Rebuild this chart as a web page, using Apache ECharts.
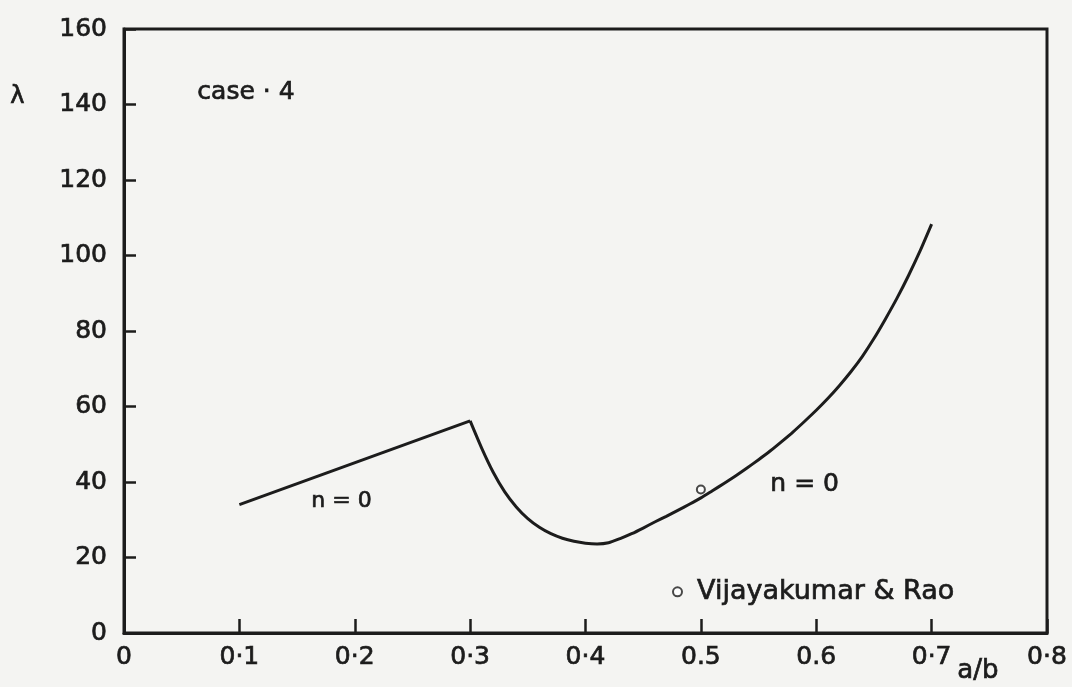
<!DOCTYPE html>
<html>
<head>
<meta charset="utf-8">
<script src="https://cdn.jsdelivr.net/npm/echarts@6/dist/echarts.min.js"></script>
<style>
  html, body { margin: 0; padding: 0; background: #f4f4f2; }
  #chart { width: 1072px; height: 687px; }
</style>
</head>
<body>
<div id="chart"></div>
<script>
// Buckling load λ against aspect ratio a/b, case 4, n = 0
const xTickLabels = ['0', '0·1', '0·2', '0·3', '0·4', '0.5', '0.6', '0·7', '0·8'];
const yTickLabels = ['0', '20', '40', '60', '80', '100', '120', '140', '160'];

// straight branch between a/b = 0.1 and 0.3
const branchA = [[0.1, 34], [0.3, 56.2]];

// curved branch from the kink at 0.3 up to 0.7, sampled every 0.01
const branchBx = [
  0.30, 0.31, 0.32, 0.33, 0.34, 0.35, 0.36, 0.37, 0.38, 0.39,
  0.40, 0.41, 0.42, 0.43, 0.44, 0.45, 0.46, 0.47, 0.48, 0.49,
  0.50, 0.51, 0.52, 0.53, 0.54, 0.55, 0.56, 0.57, 0.58, 0.59,
  0.60, 0.61, 0.62, 0.63, 0.64, 0.65, 0.66, 0.67, 0.68, 0.69, 0.70
];
const branchBy = [
  56.2, 49.0, 42.6, 37.4, 33.4, 30.3, 28.0, 26.3, 25.1, 24.3,
  23.8, 23.6, 23.9, 25.0, 26.3, 27.8, 29.4, 30.9, 32.5, 34.1,
  35.8, 37.7, 39.6, 41.6, 43.7, 45.9, 48.2, 50.7, 53.3, 56.1,
  59.0, 62.1, 65.5, 69.2, 73.3, 78.0, 83.2, 88.7, 94.7, 101.2, 108.3
];

// published comparison value
const refPoints = [[0.5, 38]];

const ink = '#1c1c1c';
const font = 'DejaVu Sans';
const heavy = { textBorderColor: ink, textBorderWidth: 0.7 };

const chart = echarts.init(document.getElementById('chart'), null, { renderer: 'canvas' });

function note(text, left, top, size) {
  return {
    type: 'text', left: left, top: top,
    style: { text: text, font: size + 'px "DejaVu Sans"', fill: ink, stroke: ink, lineWidth: 0.7 }
  };
}

chart.setOption({
  backgroundColor: '#f4f4f2',
  animation: false,
  grid: {
    left: 124, right: 25, top: 29, bottom: 54,
    show: true, borderColor: ink, borderWidth: 3, backgroundColor: 'transparent'
  },
  xAxis: {
    type: 'value', min: 0, max: 0.8, interval: 0.1,
    axisLine: { show: true, lineStyle: { color: ink, width: 3 } },
    axisTick: { show: true, inside: true, length: 14, lineStyle: { color: ink, width: 2.5 } },
    splitLine: { show: false },
    axisLabel: Object.assign({
      margin: 12, color: ink, fontFamily: font, fontSize: 25,
      formatter: v => xTickLabels[Math.round(v / 0.1)]
    }, heavy)
  },
  yAxis: {
    type: 'value', min: 0, max: 160, interval: 20,
    axisLine: { show: true, lineStyle: { color: ink, width: 3 } },
    axisTick: { show: true, inside: true, length: 12, lineStyle: { color: ink, width: 2.5 } },
    splitLine: { show: false },
    axisLabel: Object.assign({
      margin: 17, color: ink, fontFamily: font, fontSize: 25,
      formatter: v => yTickLabels[Math.round(v / 20)]
    }, heavy)
  },
  legend: {
    left: 667, top: 573,
    itemWidth: 9, itemHeight: 9, itemGap: 0,
    data: [{ name: 'Vijayakumar & Rao', icon: 'emptyCircle' }],
    textStyle: Object.assign({ color: ink, fontFamily: font, fontSize: 27, padding: [0, 0, 0, 10] }, heavy)
  },
  series: [
    {
      type: 'line', data: branchA, showSymbol: false,
      lineStyle: { color: ink, width: 3 }, z: 3
    },
    {
      type: 'line', data: branchBx.map((x, i) => [x, branchBy[i]]), showSymbol: false,
      smooth: 0.2,
      lineStyle: { color: ink, width: 3, join: 'round' }, z: 3
    },
    {
      name: 'Vijayakumar & Rao', type: 'scatter', data: refPoints,
      symbol: 'emptyCircle', symbolSize: 8,
      itemStyle: { color: ink, borderColor: ink, borderWidth: 2 }, z: 4
    }
  ],
  graphic: [
    note('λ', 10, 84, 24),
    note('case · 4', 197, 80, 25),
    note('n = 0', 311, 490, 22),
    note('n = 0', 770, 472, 25),
    note('a/b', 957, 658, 26)
  ]
});
</script>
</body>
</html>
